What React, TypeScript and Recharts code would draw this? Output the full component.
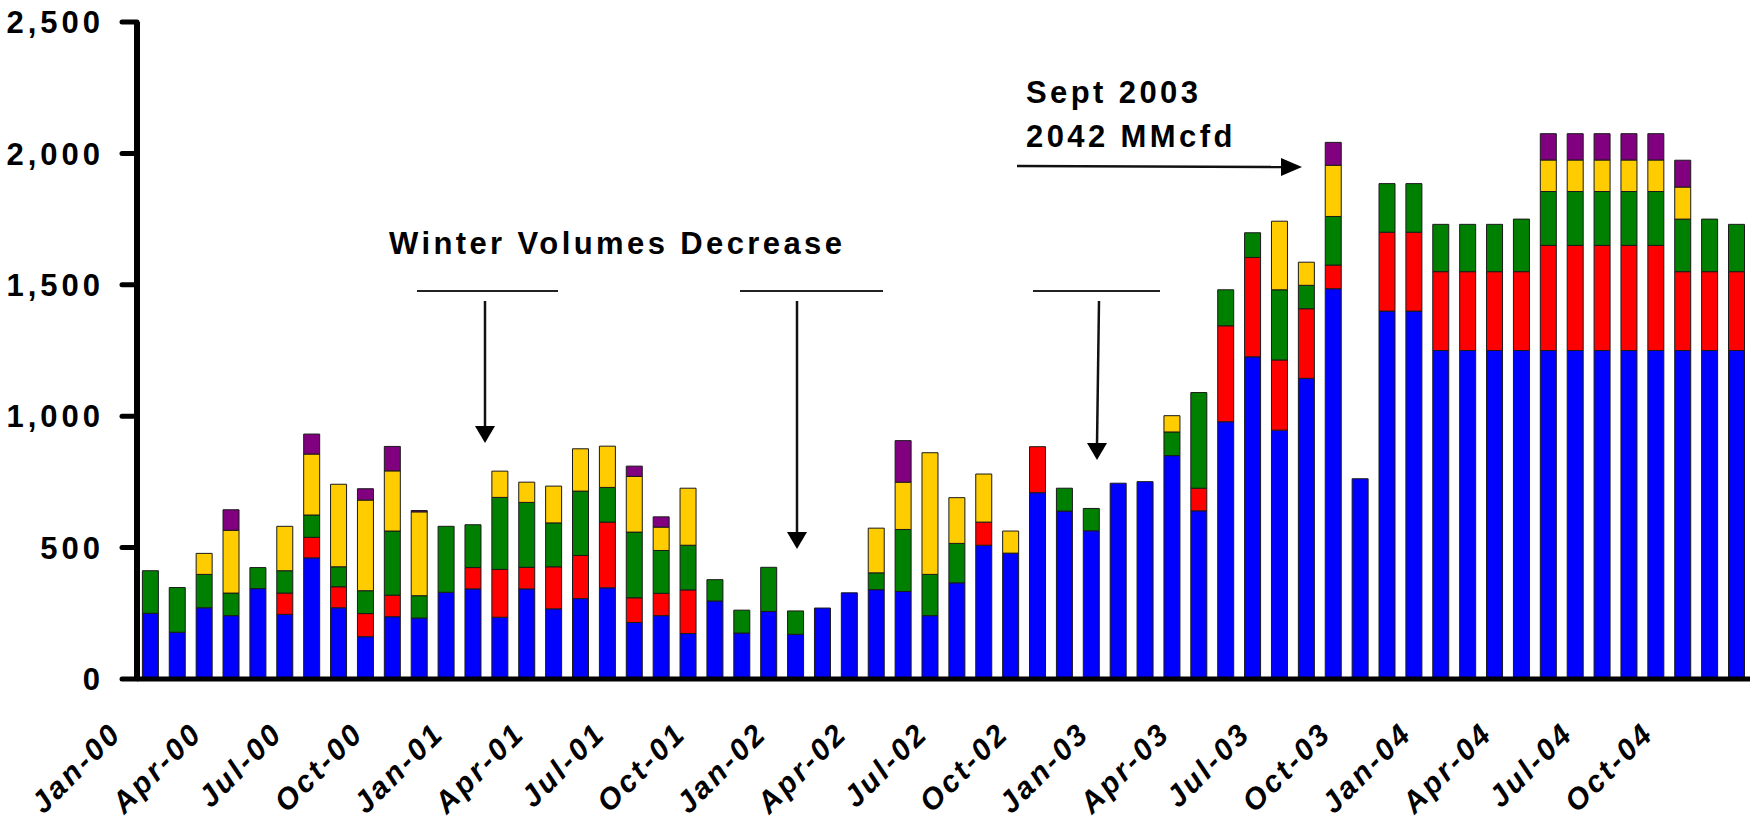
import React from 'react';
import { BarChart, Bar, XAxis, YAxis } from 'recharts';

const MONTHS = [
  'Jan-00', 'Feb-00', 'Mar-00', 'Apr-00', 'May-00', 'Jun-00', 'Jul-00', 'Aug-00', 'Sep-00', 'Oct-00', 'Nov-00', 'Dec-00',
  'Jan-01', 'Feb-01', 'Mar-01', 'Apr-01', 'May-01', 'Jun-01', 'Jul-01', 'Aug-01', 'Sep-01', 'Oct-01', 'Nov-01', 'Dec-01',
  'Jan-02', 'Feb-02', 'Mar-02', 'Apr-02', 'May-02', 'Jun-02', 'Jul-02', 'Aug-02', 'Sep-02', 'Oct-02', 'Nov-02', 'Dec-02',
  'Jan-03', 'Feb-03', 'Mar-03', 'Apr-03', 'May-03', 'Jun-03', 'Jul-03', 'Aug-03', 'Sep-03', 'Oct-03', 'Nov-03', 'Dec-03',
  'Jan-04', 'Feb-04', 'Mar-04', 'Apr-04', 'May-04', 'Jun-04', 'Jul-04', 'Aug-04', 'Sep-04', 'Oct-04', 'Nov-04', 'Dec-04',
];

const BLUE = [
  250, 178, 271, 241, 344, 246, 461, 271, 161, 237, 232, 330,
  343, 235, 343, 267, 306, 347, 215, 241, 173, 297, 175, 257,
  170, 270, 328, 340, 333, 241, 366, 509, 479, 709, 639, 564,
  745, 751, 850, 640, 979, 1226, 947, 1144, 1485, 762, 1400, 1400,
  1250, 1250, 1250, 1250, 1250, 1250, 1250, 1250, 1250, 1250, 1250, 1250,
];
const RED = [
  0, 0, 0, 0, 0, 81, 78, 80, 88, 82, 0, 0,
  81, 182, 82, 160, 164, 250, 94, 85, 166, 0, 0, 0,
  0, 0, 0, 0, 0, 0, 0, 88, 0, 175, 0, 0,
  0, 0, 0, 86, 365, 378, 267, 265, 90, 0, 300, 300,
  300, 300, 300, 300, 400, 400, 400, 400, 400, 300, 300, 300,
];
const GREEN = [
  162, 170, 127, 86, 80, 85, 85, 76, 87, 244, 85, 251,
  163, 274, 247, 167, 245, 132, 250, 163, 170, 81, 87, 168,
  89, 0, 0, 64, 236, 157, 150, 0, 0, 0, 87, 85,
  0, 0, 90, 364, 137, 94, 267, 89, 185, 0, 185, 185,
  180, 180, 180, 200, 205, 205, 205, 205, 205, 200, 200, 180,
];
const YELLOW = [
  0, 0, 80, 239, 0, 169, 232, 314, 345, 229, 319, 0,
  0, 100, 77, 140, 161, 157, 212, 89, 217, 0, 0, 0,
  0, 0, 0, 170, 180, 463, 174, 183, 84, 0, 0, 0,
  0, 0, 62, 0, 0, 0, 261, 88, 195, 0, 0, 0,
  0, 0, 0, 0, 120, 120, 120, 120, 120, 122, 0, 0,
];
const PURPLE = [
  0, 0, 0, 78, 0, 0, 76, 0, 43, 93, 5, 0,
  0, 0, 0, 0, 0, 0, 39, 39, 0, 0, 0, 0,
  0, 0, 0, 0, 158, 0, 0, 0, 0, 0, 0, 0,
  0, 0, 0, 0, 0, 0, 0, 0, 87, 0, 0, 0,
  0, 0, 0, 0, 100, 100, 100, 100, 100, 102, 0, 0,
];
const Y_TICKS = [0, 500, 1000, 1500, 2000, 2500];

const SERIES = [
  { key: 'blue', color: '#0000ff' },
  { key: 'red', color: '#ff0000' },
  { key: 'green', color: '#008000' },
  { key: 'yellow', color: '#ffcc00' },
  { key: 'purple', color: '#800080' },
];

const FONT = '"Liberation Sans", Arial, Helvetica, sans-serif';

const data = MONTHS.map((m, i) => ({
  month: m,
  blue: BLUE[i],
  red: RED[i],
  green: GREEN[i],
  yellow: YELLOW[i],
  purple: PURPLE[i],
}));

const YTick = ({ x, y, payload }: any) => (
  <text x={x} y={y} dy="0.36em" textAnchor="end" fill="#000"
        style={{ fontFamily: FONT, fontSize: 31, fontWeight: 700, letterSpacing: 4 }}>
    {Number(payload.value).toLocaleString('en-US')}
  </text>
);

const XTick = ({ x, y, payload }: any) => (
  <g transform={`translate(${x - 27},${y + 56})`}>
    <text transform="rotate(-45)" textAnchor="end" fill="#000"
          style={{ fontFamily: FONT, fontSize: 30, fontWeight: 700, fontStyle: 'italic', letterSpacing: 3 }}>
      {payload.value}
    </text>
  </g>
);

const labelStyle = { fontFamily: FONT, fontSize: 31, fontWeight: 700, letterSpacing: 3.4 };

export default function App() {
  return (
    <div style={{ position: 'absolute', left: 0, top: 0, width: 1753, height: 819, background: '#fff' }}>
      <BarChart width={1753} height={819} data={data} barCategoryGap="20%"
                margin={{ top: 22, right: 3, bottom: 0, left: 0 }}>
        <XAxis dataKey="month" interval={2} height={140} tickSize={0} tickMargin={0} tickLine={false}
               axisLine={{ stroke: '#000', strokeWidth: 5 }} tick={<XTick />} />
        <YAxis width={137} domain={[0, 2500]} ticks={Y_TICKS} allowDataOverflow tickSize={15} tickMargin={18}
               axisLine={{ stroke: '#000', strokeWidth: 6 }}
               tickLine={{ stroke: '#000', strokeWidth: 5, strokeLinecap: 'round' }} tick={<YTick />} />
        {SERIES.map(s => (
          <Bar key={s.key} dataKey={s.key} stackId="a" fill={s.color} stroke="#1a1a1a" strokeWidth={1}
               isAnimationActive={false} />
        ))}
      </BarChart>

      <svg width={1753} height={819} style={{ position: 'absolute', left: 0, top: 0, pointerEvents: 'none' }}>
        <text x={389} y={254} fill="#000" style={labelStyle}>Winter Volumes Decrease</text>
        <text x={1026} y={103} fill="#000" style={labelStyle}>Sept 2003</text>
        <text x={1026} y={147} fill="#000" style={labelStyle}>2042 MMcfd</text>

        {/* winter brackets + arrows */}
        <line x1={417} y1={291} x2={558} y2={291} stroke="#222" strokeWidth={2} />
        <line x1={740} y1={291} x2={883} y2={291} stroke="#222" strokeWidth={2} />
        <line x1={1033} y1={291} x2={1160} y2={291} stroke="#222" strokeWidth={2} />

        <line x1={485} y1={301} x2={485} y2={428} stroke="#111" strokeWidth={2.5} />
        <polygon points="475,426 495,426 485,443" fill="#000" />
        <line x1={797} y1={301} x2={797} y2={534} stroke="#111" strokeWidth={2.5} />
        <polygon points="787,532 807,532 797,549" fill="#000" />
        <line x1={1099} y1={301} x2={1097} y2={445} stroke="#111" strokeWidth={2.5} />
        <polygon points="1087,443 1107,443 1097,460" fill="#000" />

        {/* peak arrow */}
        <line x1={1017} y1={166} x2={1283} y2={167} stroke="#111" strokeWidth={2.5} />
        <polygon points="1281,158 1281,176 1302,167" fill="#000" />
      </svg>
    </div>
  );
}
